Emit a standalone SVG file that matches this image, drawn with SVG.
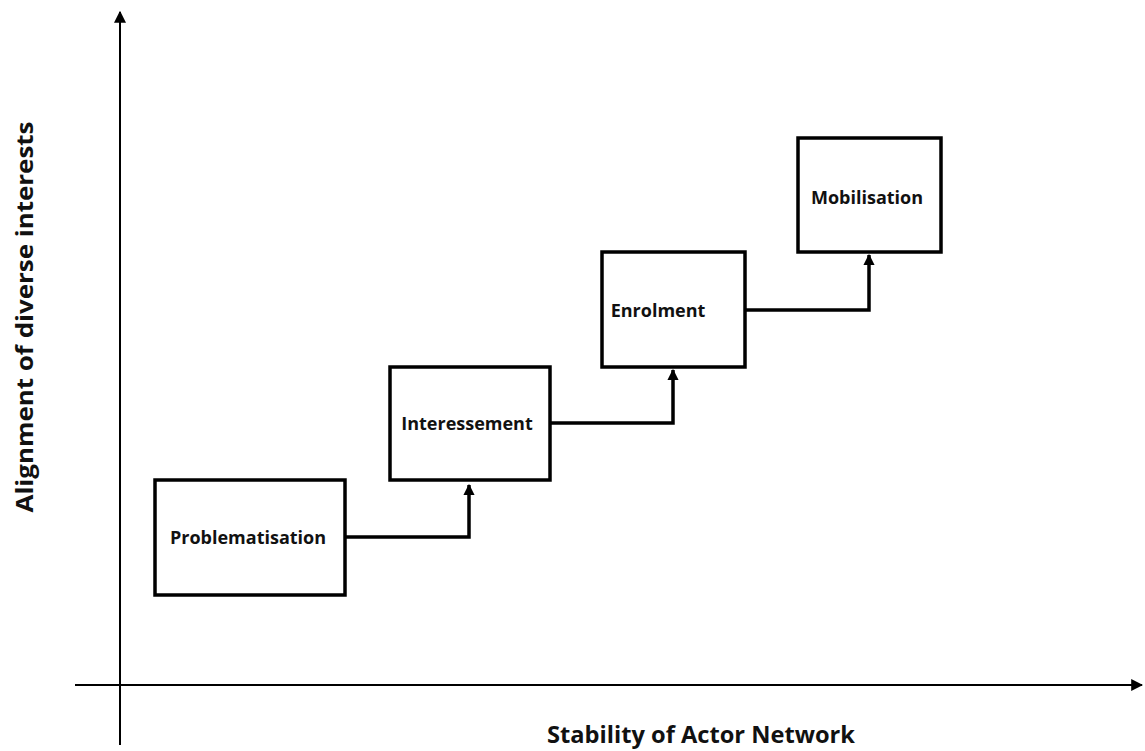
<svg xmlns="http://www.w3.org/2000/svg" width="1145" height="751" viewBox="0 0 1145 751">
  <style>
    .box { fill: #fff; stroke: #000; stroke-width: 3.5; }
    .lbl { font-family: "Open Sans", "Liberation Sans", sans-serif; font-weight: bold; font-size: 18px; fill: #111; text-anchor: middle; dominant-baseline: central; }
    .axis-lbl { font-family: "Open Sans", "Liberation Sans", sans-serif; font-weight: bold; font-size: 24px; fill: #111; text-anchor: middle; }
    .axis { stroke: #000; stroke-width: 2; fill: none; }
    .link { stroke: #000; stroke-width: 3.5; fill: none; }
  </style>
  <defs>
    <marker id="head" viewBox="0 0 10 10" refX="9" refY="5" markerWidth="3.2" markerHeight="3.2" orient="auto" markerUnits="strokeWidth">
      <path d="M0,0 L10,5 L0,10 z" fill="#000"/>
    </marker>
    <marker id="axisHead" viewBox="0 0 10 10" refX="9" refY="5" markerWidth="6" markerHeight="6" orient="auto" markerUnits="strokeWidth">
      <path d="M0,0 L10,5 L0,10 z" fill="#000"/>
    </marker>
  </defs>
  <rect width="1145" height="751" fill="#fff"/>

  <!-- axes -->
  <g id="axes">
    <line class="axis" x1="120" y1="745" x2="120" y2="12" marker-end="url(#axisHead)"/>
    <line class="axis" x1="75" y1="685" x2="1142" y2="685" marker-end="url(#axisHead)"/>
    <text class="axis-lbl" x="701" y="743" textLength="308" lengthAdjust="spacingAndGlyphs">Stability of Actor Network</text>
    <text class="axis-lbl" transform="translate(33,317) rotate(-90)" textLength="391" lengthAdjust="spacingAndGlyphs">Alignment of diverse interests</text>
  </g>

  <!-- stage transitions -->
  <g id="connectors">
    <polyline class="link" points="345,537 469,537 469,485" marker-end="url(#head)"/>
    <polyline class="link" points="550,423 673,423 673,370" marker-end="url(#head)"/>
    <polyline class="link" points="745,310 869,310 869,255" marker-end="url(#head)"/>
  </g>

  <g id="problematisation">
    <rect class="box" x="155" y="480" width="190" height="115"/>
    <text class="lbl" x="248" y="537">Problematisation</text>
  </g>
  <g id="interessement">
    <rect class="box" x="390" y="367" width="160" height="113"/>
    <text class="lbl" x="467" y="423">Interessement</text>
  </g>
  <g id="enrolment">
    <rect class="box" x="602" y="252" width="143" height="115"/>
    <text class="lbl" x="658" y="310">Enrolment</text>
  </g>
  <g id="mobilisation">
    <rect class="box" x="798" y="138" width="143" height="114"/>
    <text class="lbl" x="867" y="197">Mobilisation</text>
  </g>
</svg>
